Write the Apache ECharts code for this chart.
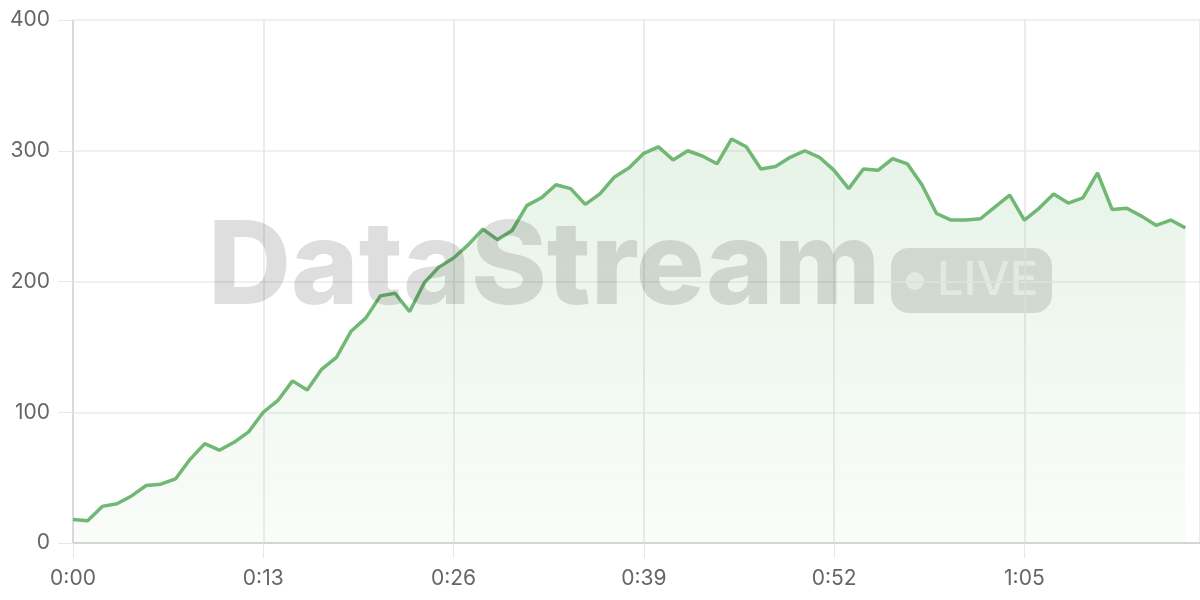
<!DOCTYPE html>
<html>
<head>
<meta charset="utf-8">
<script src="https://cdn.jsdelivr.net/npm/echarts@6/dist/echarts.min.js"></script>
<style>html,body{margin:0;padding:0;background:#fff}#c{width:1200px;height:600px}</style>
</head>
<body>
<div id="c"></div>
<script>
// seconds elapsed (index) and values
const seconds = [];
const values = [18,17,28,30,36,44,45,49,64,76,71,77,85,100,109,124,117,133,142,162,172,189,191,177,199,211,218,228,240,232,239,258,264,274,271,259,267,280,287,298,303,293,300,296,290,309,303,286,288,295,300,295,285,271,286,285,294,290,274,252,247,247,248,257,266,247,256,267,260,264,283,255,256,250,243,247,241];
for (let i = 0; i < values.length; i++) seconds.push(i);
const yTicks = [0, 100, 200, 300, 400];
const xTickStep = 13;
const watermarkText = 'DataStream';
const badgeText = 'LIVE';

function fmt(s) {
  const m = Math.floor(s / 60), r = s % 60;
  return m + ':' + (r < 10 ? '0' : '') + r;
}

const chart = echarts.init(document.getElementById('c'), null, {renderer: 'canvas'});
const font = 'Inter, "Noto Sans", sans-serif';
chart.setOption({
  animation: false,
  grid: {left: 73, right: 0, top: 20, bottom: 57, containLabel: false},
  xAxis: {
    type: 'value', min: 0, max: 77, interval: xTickStep,
    axisLine: {show: true, lineStyle: {color: '#cccccc', width: 1.5}},
    axisTick: {show: true, length: 15, lineStyle: {color: '#e6e6e6'}},
    splitLine: {show: true, lineStyle: {color: '#e6e6e6', width: 1.5}},
    axisLabel: {
      color: '#666', fontSize: 21, fontFamily: font, margin: 25,
      formatter: v => fmt(v),
      showMaxLabel: false
    }
  },
  yAxis: {
    type: 'value', min: yTicks[0], max: yTicks[yTicks.length - 1], interval: 100,
    axisLine: {show: true, lineStyle: {color: '#d4d4d4', width: 1.5}},
    axisTick: {show: true, length: 15, lineStyle: {color: '#e6e6e6'}},
    splitLine: {show: true, lineStyle: {color: '#ebebeb', width: 1.5}},
    axisLabel: {color: '#666', fontSize: 21, fontFamily: font, margin: 23}
  },
  series: [{
    type: 'line',
    data: seconds.map((s, i) => [s, values[i]]),
    showSymbol: false,
    symbol: 'none',
    lineStyle: {color: '#70b873', width: 3.5},
    areaStyle: {
      color: new echarts.graphic.LinearGradient(0, 0, 0, 1, [
        {offset: 0, color: 'rgba(108,184,111,0.24)'},
        {offset: 1, color: 'rgba(108,184,111,0.05)'}
      ])
    },
    z: 2
  }],
  graphic: [
    {
      type: 'text', left: 208, top: 212, z: 100, silent: true,
      style: {
        text: watermarkText, fill: 'rgba(0,0,0,0.13)',
        font: '800 115px Inter, "Noto Sans", sans-serif'
      }
    },
    {
      type: 'group', left: 891, top: 248, z: 100, silent: true,
      children: [
        {type: 'rect', shape: {x: 0, y: 0, width: 161, height: 65, r: 18}, style: {fill: 'rgba(0,0,0,0.13)'}},
        {type: 'circle', shape: {cx: 24, cy: 33, r: 9}, style: {fill: 'rgba(255,255,255,0.55)'}},
        {type: 'text', x: 46, y: 33, style: {text: badgeText, fill: 'rgba(255,255,255,0.55)', font: '500 47px Inter, "Noto Sans", sans-serif', verticalAlign: 'middle'}}
      ]
    }
  ]
});
</script>
</body>
</html>
